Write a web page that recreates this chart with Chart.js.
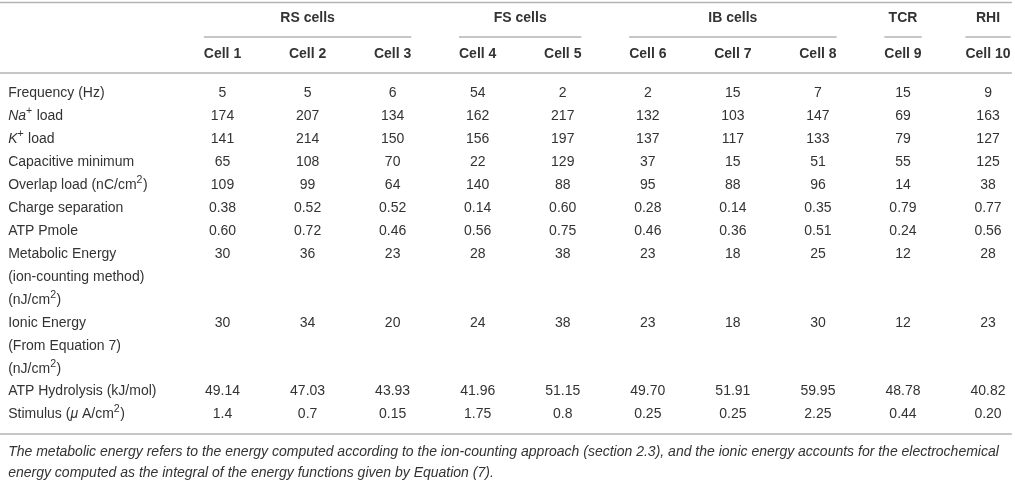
<!DOCTYPE html>
<html><head><meta charset="utf-8">
<script src="https://cdn.jsdelivr.net/npm/chart.js@4.4.0/dist/chart.umd.min.js"></script>
<style>html,body{margin:0;padding:0;background:#fff;}#wrap{width:1015px;height:483px;}</style>
</head><body><div id="wrap"><canvas id="c" width="1015" height="483"></canvas></div>
<script>
// ---- data ----
const groupLabels = ["RS cells", "FS cells", "IB cells", "TCR", "RHI"];
const groupFirst = [1, 4, 6, 9, 10];
const groupLast = [3, 5, 8, 9, 10];
const cellLabels = ["Cell 1", "Cell 2", "Cell 3", "Cell 4", "Cell 5", "Cell 6", "Cell 7", "Cell 8", "Cell 9", "Cell 10"];
const rowLabels = [
  ["Frequency (Hz)"],
  ["<i>Na</i><sup>+</sup> load"],
  ["<i>K</i><sup>+</sup> load"],
  ["Capacitive minimum"],
  ["Overlap load (nC/cm<sup>2</sup>)"],
  ["Charge separation"],
  ["ATP Pmole"],
  ["Metabolic Energy", "(ion-counting method)", "(nJ/cm<sup>2</sup>)"],
  ["Ionic Energy", "(From Equation 7)", "(nJ/cm<sup>2</sup>)"],
  ["ATP Hydrolysis (kJ/mol)"],
  ["Stimulus (<i>\u03bc</i> A/cm<sup>2</sup>)"]
];
const frequency = ["5", "5", "6", "54", "2", "2", "15", "7", "15", "9"];
const naLoad = ["174", "207", "134", "162", "217", "132", "103", "147", "69", "163"];
const kLoad = ["141", "214", "150", "156", "197", "137", "117", "133", "79", "127"];
const capacitiveMinimum = ["65", "108", "70", "22", "129", "37", "15", "51", "55", "125"];
const overlapLoad = ["109", "99", "64", "140", "88", "95", "88", "96", "14", "38"];
const chargeSeparation = ["0.38", "0.52", "0.52", "0.14", "0.60", "0.28", "0.14", "0.35", "0.79", "0.77"];
const atpPmole = ["0.60", "0.72", "0.46", "0.56", "0.75", "0.46", "0.36", "0.51", "0.24", "0.56"];
const metabolicEnergy = ["30", "36", "23", "28", "38", "23", "18", "25", "12", "28"];
const ionicEnergy = ["30", "34", "20", "24", "38", "23", "18", "30", "12", "23"];
const atpHydrolysis = ["49.14", "47.03", "43.93", "41.96", "51.15", "49.70", "51.91", "59.95", "48.78", "40.82"];
const stimulus = ["1.4", "0.7", "0.15", "1.75", "0.8", "0.25", "0.25", "2.25", "0.44", "0.20"];
const rowValues = [frequency, naLoad, kLoad, capacitiveMinimum, overlapLoad, chargeSeparation,
  atpPmole, metabolicEnergy, ionicEnergy, atpHydrolysis, stimulus];
const captionLines = [
  "The metabolic energy refers to the energy computed according to the ion-counting approach (section 2.3), and the ionic energy accounts for the electrochemical",
  "energy computed as the integral of the energy functions given by Equation (7)."
];

// ---- build table layout (line indices) ----
const rowStart = [];
let line = 0;
rowLabels.forEach(function (lbls) { rowStart.push(line); line += lbls.length; });
const totalLines = line;

const points = [];
rowValues.forEach(function (vals, r) {
  vals.forEach(function (v, c) { points.push({ x: c + 1, y: rowStart[r], t: v }); });
});

// ---- styling ----
const FONT = '"Liberation Sans", Arial, Helvetica, sans-serif';
const TEXT = '#333333';
const RULE = '#b3b3b3';
const BODY = 14;
const HEAD = 14;
const CAPTION = 14;

function parseRich(s) {
  const segs = [];
  let ital = false, sup = false;
  const re = /<(\/?)(i|sup)>/g;
  let last = 0, m;
  while ((m = re.exec(s)) !== null) {
    if (m.index > last) segs.push({ t: s.slice(last, m.index), i: ital, s: sup });
    const on = m[1] !== '/';
    if (m[2] === 'i') ital = on; else sup = on;
    last = re.lastIndex;
  }
  if (last < s.length) segs.push({ t: s.slice(last), i: ital, s: sup });
  return segs;
}
function segFont(seg, size, weight) {
  const sz = seg.s ? size * 0.76 : size;
  return (seg.i ? 'italic ' : '') + (weight || 'normal') + ' ' + sz + 'px ' + FONT;
}
function richWidth(ctx, str, size, weight) {
  let w = 0;
  parseRich(str).forEach(function (seg) { ctx.font = segFont(seg, size, weight); w += ctx.measureText(seg.t).width; });
  return w;
}
function drawRich(ctx, str, x, y, size, align, weight, color) {
  const segs = parseRich(str);
  const w = richWidth(ctx, str, size, weight);
  let cx = align === 'center' ? x - w / 2 : (align === 'right' ? x - w : x);
  ctx.fillStyle = color || TEXT;
  ctx.textBaseline = 'middle';
  ctx.textAlign = 'left';
  segs.forEach(function (seg) {
    ctx.font = segFont(seg, size, weight);
    ctx.fillText(seg.t, cx, seg.s ? y - size * 0.36 : y);
    cx += ctx.measureText(seg.t).width + (seg.s ? 0.5 : 0);
  });
}
function hline(ctx, x1, x2, y, color, lw) {
  ctx.save();
  ctx.strokeStyle = color; ctx.lineWidth = lw;
  ctx.beginPath(); ctx.moveTo(x1, y); ctx.lineTo(x2, y); ctx.stroke();
  ctx.restore();
}

const tablePlugin = {
  id: 'tableText',
  afterDatasetsDraw: function (chart) {
    const ctx = chart.ctx;
    const xs = chart.scales.x, ys = chart.scales.y;
    ctx.save();
    // cell values, placed at the dataset elements (scale positions)
    const meta = chart.getDatasetMeta(0);
    meta.data.forEach(function (el, i) {
      drawRich(ctx, points[i].t, el.x, el.y, BODY, 'center', 'normal');
    });
    // row labels
    const xLabel = xs.getPixelForValue(-1.52);
    rowLabels.forEach(function (lbls, r) {
      lbls.forEach(function (l, k) {
        drawRich(ctx, l, xLabel, ys.getPixelForValue(rowStart[r] + k), BODY, 'left', 'normal');
      });
    });
    // column headers
    const yCell = ys.getPixelForValue(-1.723);
    const cellHalf = [];
    cellLabels.forEach(function (l, c) {
      drawRich(ctx, l, xs.getPixelForValue(c + 1), yCell, HEAD, 'center', 'bold');
      cellHalf.push(richWidth(ctx, l, HEAD, 'bold') / 2);
    });
    // group headers + underline
    const yGroup = ys.getPixelForValue(-3.293);
    const yGroupRule = ys.getPixelForValue(-2.464);
    groupLabels.forEach(function (g, k) {
      const a = groupFirst[k], b = groupLast[k];
      const x1 = xs.getPixelForValue(a) - cellHalf[a - 1];
      const x2 = xs.getPixelForValue(b) + cellHalf[b - 1];
      drawRich(ctx, g, (x1 + x2) / 2, yGroup, HEAD, 'center', 'bold');
      hline(ctx, x1, x2, yGroupRule, RULE, 1.5);
    });
    // rules
    const xl = xs.getPixelForValue(-1.616), xr = xs.getPixelForValue(10.28);
    hline(ctx, xl, xr, ys.getPixelForValue(-3.969), RULE, 1.5);
    hline(ctx, xl, xr, ys.getPixelForValue(-0.894), RULE, 1.5);
    hline(ctx, xl, xr, ys.getPixelForValue(totalLines - 0.15), RULE, 1.5);
    // caption
    captionLines.forEach(function (l, k) {
      drawRich(ctx, '<i>' + l + '</i>', xLabel, ys.getPixelForValue(totalLines + 0.634 + k * 0.916), CAPTION, 'left', 'normal', '#333333');
    });
    ctx.restore();
  }
};

new Chart(document.getElementById('c'), {
  type: 'scatter',
  data: { datasets: [{ data: points, pointRadius: 0, pointHoverRadius: 0, showLine: false }] },
  options: {
    responsive: false,
    animation: false,
    layout: { padding: 0 },
    plugins: { legend: { display: false }, tooltip: { enabled: false } },
    scales: {
      x: { type: 'linear', display: false, min: -1.616, max: 10.317 },
      y: { type: 'linear', display: false, reverse: true, min: -4.078, max: 16.986 }
    }
  },
  plugins: [tablePlugin]
});
</script>
</body></html>
